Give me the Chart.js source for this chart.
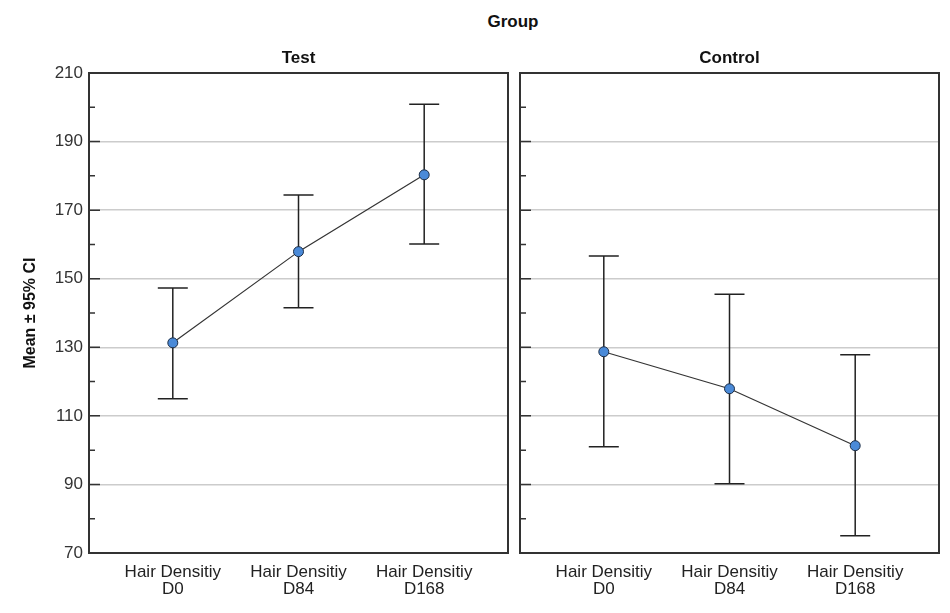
<!DOCTYPE html>
<html>
<head>
<meta charset="utf-8">
<script src="https://cdn.jsdelivr.net/npm/chart.js@4.4.1/dist/chart.umd.min.js"></script>
<style>
  body { margin: 0; background: #fff; }
  #wrap { position: relative; width: 950px; height: 613px; font-family: "Liberation Sans", Arial, sans-serif; }
  #wrap canvas { position: absolute; top: 0; }
  #grp { position: absolute; left: 413px; width: 200px; top: 12px; text-align: center;
         font-weight: bold; font-size: 17px; line-height: 20px; color: #111; }
</style>
</head>
<body>
<div id="wrap">
  <div id="grp">Group</div>
  <canvas id="testChart" width="514" height="613" style="left:0"></canvas>
  <canvas id="controlChart" width="436" height="613" style="left:514px"></canvas>
</div>
<script>
// categories + tick labels
const labelPrefix = 'Hair Densitiy';
const categories = ['D0', 'D84', 'D168'];
const yMajor = [70, 90, 110, 130, 150, 170, 190, 210];
const yMinor = [80, 100, 120, 140, 160, 180, 200];

// Test group: mean and 95% CI
const testMean = [131.3, 157.9, 180.3];
const testLow  = [115.0, 141.5, 160.1];
const testHigh = [147.3, 174.4, 200.9];

// Control group
const controlMean = [128.7, 117.9, 101.3];
const controlLow  = [101.0, 90.2, 75.0];
const controlHigh = [156.6, 145.5, 127.8];

const FONT = '"Liberation Sans", Arial, sans-serif';

// error bars, panel frame, inner tick marks, panel title
const panelPlugin = {
    id: 'panel',
    beforeDatasetsDraw(chart) {
        const ctx = chart.ctx, xs = chart.scales.x, ys = chart.scales.y;
        const ds = chart.data.datasets[0];
        ctx.save();
        ctx.strokeStyle = '#222';
        ctx.lineWidth = 1.5;
        ds.low.forEach((lo, i) => {
            const x = xs.getPixelForValue(i);
            const y1 = ys.getPixelForValue(lo), y2 = ys.getPixelForValue(ds.high[i]);
            ctx.beginPath();
            ctx.moveTo(x, y1); ctx.lineTo(x, y2);
            ctx.moveTo(x - 15, y1); ctx.lineTo(x + 15, y1);
            ctx.moveTo(x - 15, y2); ctx.lineTo(x + 15, y2);
            ctx.stroke();
        });
        ctx.restore();
    },
    afterDraw(chart) {
        const ctx = chart.ctx, a = chart.chartArea, ys = chart.scales.y;
        ctx.save();
        ctx.strokeStyle = '#333';
        ctx.lineWidth = 1.5;
        ctx.beginPath();
        yMajor.forEach(v => { const y = ys.getPixelForValue(v); ctx.moveTo(a.left, y); ctx.lineTo(a.left + 11, y); });
        yMinor.forEach(v => { const y = ys.getPixelForValue(v); ctx.moveTo(a.left, y); ctx.lineTo(a.left + 6, y); });
        ctx.stroke();
        ctx.lineWidth = 2;
        ctx.strokeRect(a.left, a.top, a.right - a.left, a.bottom - a.top);
        ctx.fillStyle = '#111';
        ctx.font = 'bold 17px ' + FONT;
        ctx.textAlign = 'center';
        ctx.textBaseline = 'middle';
        ctx.fillText(chart.options.plugins.panel.title, (a.left + a.right) / 2, 58);
        ctx.restore();
    }
};

function makePanel(id, title, mean, low, high, showY, pad) {
    return new Chart(document.getElementById(id), {
        type: 'line',
        data: {
            datasets: [{
                data: mean.map((v, i) => ({ x: i, y: v })),
                low: low,
                high: high,
                borderColor: '#333',
                borderWidth: 1.2,
                pointRadius: 5,
                pointBackgroundColor: '#4a8ad8',
                pointBorderColor: '#1c2d45',
                pointBorderWidth: 1
            }]
        },
        options: {
            responsive: false,
            animation: false,
            layout: { padding: pad },
            plugins: { legend: { display: false }, tooltip: { enabled: false }, panel: { title: title } },
            scales: {
                x: {
                    type: 'linear', min: -2 / 3, max: 8 / 3,
                    afterBuildTicks: s => { s.ticks = categories.map((c, i) => ({ value: i })); },
                    ticks: {
                        callback: (v, i) => [labelPrefix, categories[i]],
                        font: { family: FONT, size: 17, lineHeight: 1.0 },
                        color: '#222', padding: 3, maxRotation: 0, autoSkip: false
                    },
                    grid: { display: false },
                    border: { display: false },
                    afterFit: s => { s.height = 60; }
                },
                y: {
                    min: 70, max: 210,
                    afterBuildTicks: s => { s.ticks = yMajor.map(v => ({ value: v })); },
                    ticks: { display: showY, padding: 6, color: '#333', font: { family: FONT, size: 17 } },
                    grid: {
                        drawTicks: false, lineWidth: 1.5,
                        color: c => (c.tick && (c.tick.value === 70 || c.tick.value === 210)) ? 'rgba(0,0,0,0)' : '#cccccc'
                    },
                    border: { display: false },
                    title: {
                        display: showY, text: 'Mean ± 95% CI', color: '#111',
                        font: { family: FONT, size: 16, weight: 'bold' }, padding: { top: 21, bottom: 0 }
                    },
                    afterFit: s => { s.width = showY ? 89 : 0; }
                }
            }
        },
        plugins: [panelPlugin]
    });
}

makePanel('testChart', 'Test', testMean, testLow, testHigh, true, { top: 73, right: 4, left: 0, bottom: 0 });
makePanel('controlChart', 'Control', controlMean, controlLow, controlHigh, false, { top: 73, right: 11, left: 4, bottom: 0 });
</script>
</body>
</html>
